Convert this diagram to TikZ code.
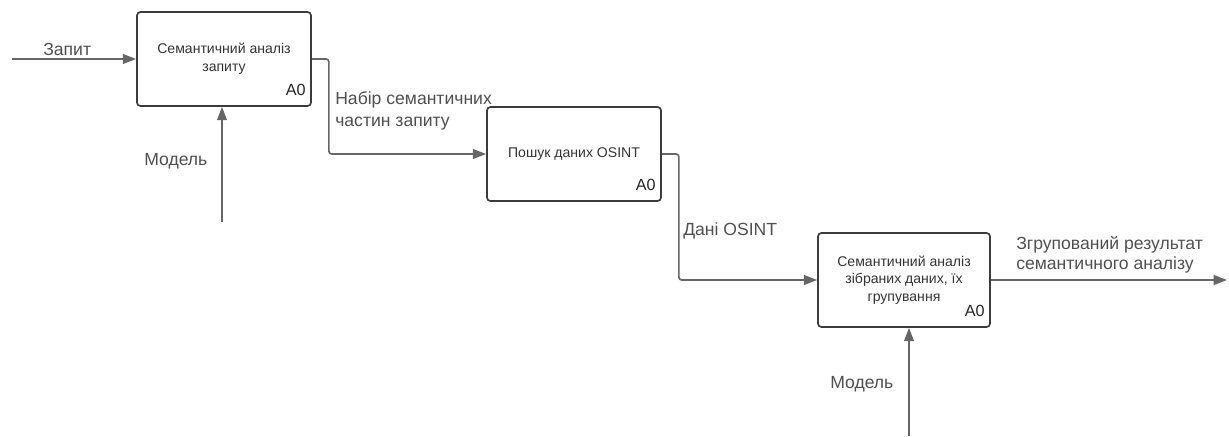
\documentclass[tikz,border=0pt]{standalone}
\usepackage{fontspec}
\setmainfont{Liberation Sans}
\usetikzlibrary{arrows.meta}
\definecolor{liniya}{HTML}{666666}
\definecolor{ramka}{HTML}{3C3C3C}
\definecolor{tekst}{HTML}{4F4F4F}
\begin{document}
\begin{tikzpicture}[x=0.025cm, y=-0.025cm,
  blok/.style={draw=ramka, line width=1.2pt, rounded corners=2.5pt, minimum height=2.35cm,
    text=black!80, align=center, font=\fontsize{10}{12.5}\selectfont},
  potik/.style={draw=liniya, line width=1.2pt, rounded corners=2pt,
    -{Triangle[length=9.5pt,width=7pt]}},
  napys/.style={text=tekst, inner sep=0pt, align=left, font=\fontsize{12.5}{15.5}\selectfont},
  nomer/.style={inner sep=0pt, text=black!85, font=\fontsize{11.5}{13}\selectfont}]

\useasboundingbox (0,0) rectangle (1229,436);

% blocks
\node[blok, minimum width=4.35cm] (semzap) at (224,59) {Семантичний аналіз\\запиту};
\node[blok, minimum width=4.35cm] (poshuk) at (574,154) {Пошук даних OSINT};
\node[blok, minimum width=4.3cm] (semdani) at (904,280) {Семантичний аналіз\\зібраних даних, їх\\групування};

\foreach \b in {semzap,poshuk,semdani}
  \node[nomer, anchor=base east] at ([shift={(-6,-11)}]\b.south east) {A0};

% free ends
\coordinate (zapyt) at (12,59);
\coordinate (model1) at (222,222);
\coordinate (model2) at (909,436);
\coordinate (rezult) at (1227,280);

% arrows
\draw[potik] (zapyt) -- (semzap.west);
\draw[potik] (model1) -- (model1 |- semzap.south);
\draw[potik] (semzap.east) -- ++(17,0) |- (poshuk.west);
\draw[potik] (poshuk.east) -- ++(17,0) |- (semdani.west);
\draw[potik] (model2) -- (model2 |- semdani.south);
\draw[potik] (semdani.east) -- (rezult);

% labels
\node[napys, anchor=base west] (lzapyt) at (43,55) {Запит};
\node[napys, anchor=base west] (lmodel1) at (144,165) {Модель};
\node[napys, anchor=west] (lnabir) at (335,111) {Набір семантичних\\частин запиту};
\node[napys, anchor=base west] (ldani) at (683,235) {Дані OSINT};
\node[napys, anchor=west, font=\fontsize{12.5}{14.5}\selectfont] (lrez) at (1016,255) {Згрупований результат\\семантичного аналізу};
\node[napys, anchor=base west] (lmodel2) at (830,388) {Модель};

\end{tikzpicture}
\end{document}
